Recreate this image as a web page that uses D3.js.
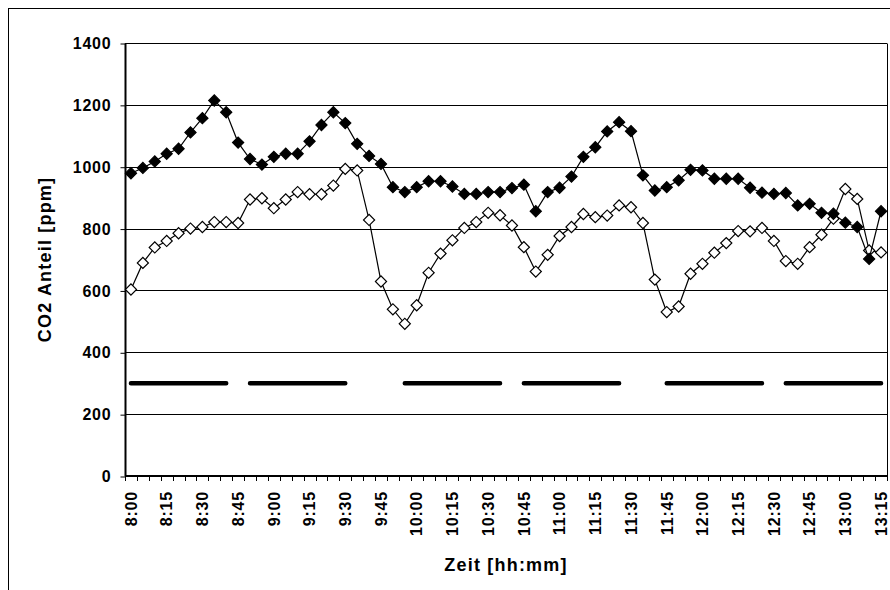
<!DOCTYPE html>
<html>
<head>
<meta charset="utf-8">
<script src="https://cdn.jsdelivr.net/npm/d3@7"></script>
<style>
  html, body { margin: 0; padding: 0; background: #fff; }
  svg { display: block; }
  text { font-family: "Liberation Sans", Arial, sans-serif; font-weight: bold; fill: #000; }
</style>
</head>
<body>
<svg id="chart" width="890" height="590"></svg>
<script>
// Measurement times, one every 5 minutes
const categories = [
  "8:00","8:05","8:10","8:15","8:20","8:25","8:30","8:35","8:40","8:45",
  "8:50","8:55","9:00","9:05","9:10","9:15","9:20","9:25","9:30","9:35",
  "9:40","9:45","9:50","9:55","10:00","10:05","10:10","10:15","10:20","10:25",
  "10:30","10:35","10:40","10:45","10:50","10:55","11:00","11:05","11:10","11:15",
  "11:20","11:25","11:30","11:35","11:40","11:45","11:50","11:55","12:00","12:05",
  "12:10","12:15","12:20","12:25","12:30","12:35","12:40","12:45","12:50","12:55",
  "13:00","13:05","13:10","13:15"
];

// CO2 readings [ppm], filled-diamond series
const seriesFilled = [
  979, 996, 1017, 1042, 1058, 1111, 1157, 1214, 1176, 1078,
  1025, 1007, 1032, 1042, 1042, 1082, 1135, 1176, 1141, 1074,
  1035, 1009, 934, 918, 934, 953, 953, 936, 912, 912,
  918, 918, 931, 942, 856, 918, 932, 968, 1032, 1063,
  1114, 1144, 1115, 972, 923, 934, 956, 990, 988, 961,
  961, 961, 932, 916, 912, 915, 875, 880, 851, 848,
  819, 805, 702, 856
];

// CO2 readings [ppm], open-diamond series
const seriesOpen = [
  603, 689, 739, 760, 785, 800, 805, 821, 821, 818,
  894, 898, 866, 894, 918, 911, 911, 939, 993, 988,
  828, 629, 539, 492, 552, 657, 719, 762, 802, 821,
  851, 843, 810, 740, 661, 715, 776, 805, 847, 837,
  842, 875, 869, 818, 635, 530, 548, 654, 686, 722,
  753, 792, 791, 802, 760, 695, 686, 740, 780, 832,
  928, 896, 729, 723
];

// Bar series at 300 ppm (lesson periods), null = no value
const seriesLessons = [
  300, 300, 300, 300, 300, 300, 300, 300, 300, null,
  300, 300, 300, 300, 300, 300, 300, 300, 300, null,
  null, null, null, 300, 300, 300, 300, 300, 300, 300,
  300, 300, null, 300, 300, 300, 300, 300, 300, 300,
  300, 300, null, null, null, 300, 300, 300, 300, 300,
  300, 300, 300, 300, null, 300, 300, 300, 300, 300,
  300, 300, 300, 300
];

// Axis labels: every third time, and the ppm ticks
const xTickLabels = [
  "8:00","8:15","8:30","8:45","9:00","9:15","9:30","9:45","10:00","10:15","10:30",
  "10:45","11:00","11:15","11:30","11:45","12:00","12:15","12:30","12:45","13:00","13:15"
];
const yTicks = [0, 200, 400, 600, 800, 1000, 1200, 1400];

const svg = d3.select("#chart");

// Chart area frame
svg.append("rect")
  .attr("x", 8.5).attr("y", 8.5)
  .attr("width", 1000).attr("height", 1000)
  .attr("fill", "#fff").attr("stroke", "#000").attr("stroke-width", 1);

const plot = { left: 125, right: 887, top: 43, bottom: 476 };

const x = d3.scaleBand()
  .domain(categories)
  .range([plot.left, plot.right])
  .paddingInner(0).paddingOuter(0);
const xc = d => x(d) + x.bandwidth() / 2;

const y = d3.scaleLinear()
  .domain([0, 1400])
  .range([plot.bottom, plot.top]);

// Horizontal gridlines
svg.append("g")
  .selectAll("line")
  .data(yTicks.filter(t => t > 0))
  .join("line")
  .attr("x1", plot.left).attr("x2", plot.right)
  .attr("y1", d => Math.round(y(d)) + 0.5).attr("y2", d => Math.round(y(d)) + 0.5)
  .attr("stroke", "#000").attr("stroke-width", 1);

// Right plot border
svg.append("line")
  .attr("x1", plot.right + 0.5).attr("x2", plot.right + 0.5)
  .attr("y1", Math.round(y(1400)) + 0.5).attr("y2", plot.bottom)
  .attr("stroke", "#000").attr("stroke-width", 1);

// Y axis
const yAxis = d3.axisLeft(y).tickValues(yTicks).tickFormat(d3.format("d")).tickSize(5).tickPadding(9);
const gy = svg.append("g")
  .attr("transform", `translate(${plot.left + 0.5},0.5)`)
  .call(yAxis);
gy.select(".domain").attr("stroke", "#000").attr("stroke-width", 2).attr("d", `M0,${y(1400)}V${y(0)}`);
gy.selectAll(".tick line").attr("stroke", "#000");
gy.selectAll(".tick text")
  .style("font-size", "16px").style("letter-spacing", "0.8px")
  .attr("font-family", null);

// X axis: ticks between categories, labels on every third category
const boundaries = d3.range(categories.length + 1).map(i => plot.left + i * x.bandwidth());
const gx = svg.append("g");
gx.append("line")
  .attr("x1", plot.left).attr("x2", plot.right + 1)
  .attr("y1", plot.bottom).attr("y2", plot.bottom)
  .attr("stroke", "#000").attr("stroke-width", 2);
gx.selectAll("line.tk")
  .data(boundaries)
  .join("line").attr("class", "tk")
  .attr("x1", d => Math.round(d) + 0.5).attr("x2", d => Math.round(d) + 0.5)
  .attr("y1", plot.bottom).attr("y2", plot.bottom + 5)
  .attr("stroke", "#000").attr("stroke-width", 1);
gx.selectAll("text")
  .data(xTickLabels)
  .join("text")
  .attr("transform", d => `translate(${xc(d)},${plot.bottom + 15}) rotate(-90)`)
  .attr("text-anchor", "end")
  .attr("dy", "0.36em")
  .style("font-size", "16px").style("letter-spacing", "0.8px")
  .text(d => d);

// Axis titles
svg.append("text")
  .attr("x", (plot.left + plot.right) / 2)
  .attr("y", 571)
  .attr("text-anchor", "middle")
  .style("font-size", "18px").style("letter-spacing", "1.2px")
  .text("Zeit [hh:mm]");
svg.append("text")
  .attr("transform", `translate(51,${(plot.top + plot.bottom) / 2}) rotate(-90)`)
  .attr("text-anchor", "middle")
  .style("font-size", "18px").style("letter-spacing", "1.2px")
  .text("CO2 Anteil [ppm]");

// Lesson bars at 300 ppm
const lineGen = d3.line()
  .defined(v => v !== null)
  .x((v, i) => xc(categories[i]))
  .y(v => y(v));
svg.append("path")
  .datum(seriesLessons)
  .attr("d", lineGen)
  .attr("fill", "none").attr("stroke", "#000")
  .attr("stroke-width", 4.5).attr("stroke-linecap", "round");

// Measurement series
const diamond = d3.symbol(d3.symbolSquare, 62);
function drawSeries(values, fill) {
  const g = svg.append("g");
  g.append("path")
    .datum(values)
    .attr("d", lineGen)
    .attr("fill", "none").attr("stroke", "#000").attr("stroke-width", 1.2);
  g.selectAll("path.mk")
    .data(values)
    .join("path").attr("class", "mk")
    .attr("d", diamond)
    .attr("transform", (v, i) => `translate(${xc(categories[i])},${y(v)}) rotate(45)`)
    .attr("fill", fill).attr("stroke", "#000").attr("stroke-width", 1.2);
}
drawSeries(seriesOpen, "#fff");
drawSeries(seriesFilled, "#000");
</script>
</body>
</html>
